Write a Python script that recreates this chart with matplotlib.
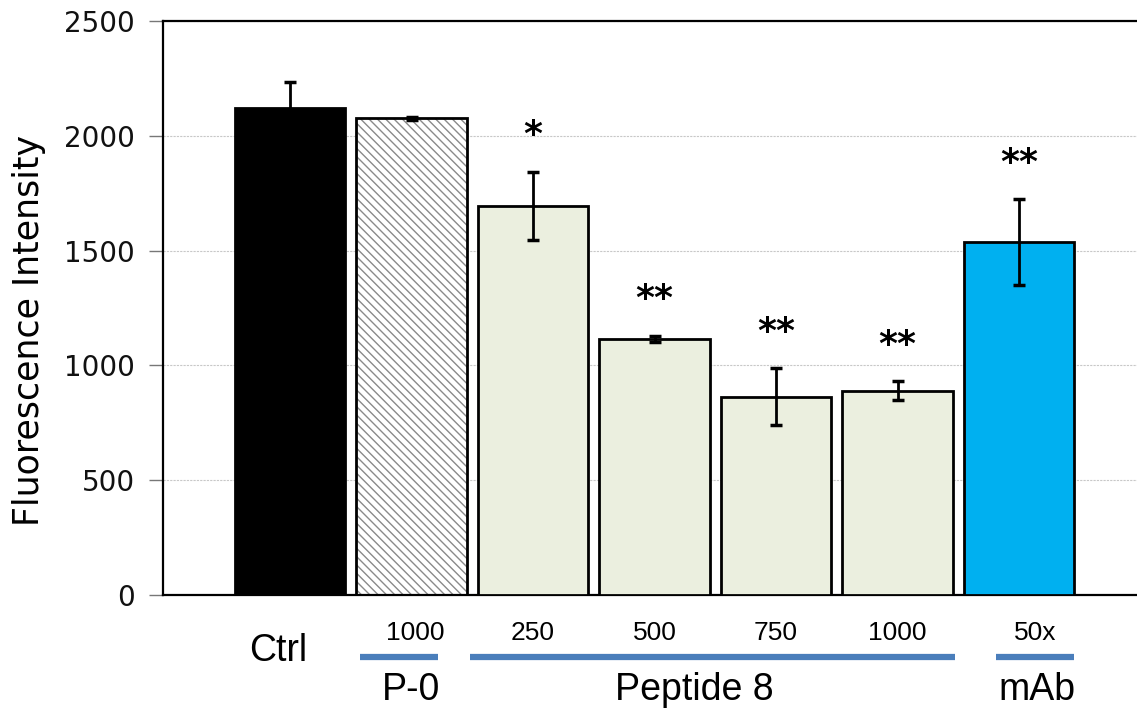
import numpy as np
import matplotlib.pyplot as plt
from matplotlib.transforms import blended_transform_factory

# bar data
groups = ['Ctrl', 'P-0', 'Pep250', 'Pep500', 'Pep750', 'Pep1000', 'mAb']
means = [2122, 2076, 1694, 1115, 864, 890, 1536]
errs = [111, 8, 150, 15, 123, 40, 187]
stars = ['', '', '*', '**', '**', '**', '**']
colors = ['#000000', '#ffffff', '#ebefdf', '#ebefdf', '#ebefdf', '#ebefdf', '#00b0f0']

dose_labels = ['1000', '250', '500', '750', '1000', '50x']
dose_x = [1.03, 2.0, 3.0, 4.0, 5.0, 6.13]
yticks = [0, 500, 1000, 1500, 2000, 2500]

W, H = 1137, 712
fig = plt.figure(figsize=(W / 100, H / 100), dpi=100)
ax = fig.add_axes([163 / W, 1 - 595 / H, (W - 163) / W, (595 - 21) / H])

x = np.arange(len(groups))
for i in range(len(groups)):
    if groups[i] == 'P-0':
        ax.bar(x[i], means[i], 0.91, color='white', edgecolor='#8a8a8a',
               hatch='\\\\\\\\', linewidth=0, zorder=2)
        ax.bar(x[i], means[i], 0.91, fill=False, edgecolor='black', linewidth=2, zorder=3)
    else:
        ax.bar(x[i], means[i], 0.91, color=colors[i], edgecolor='black', linewidth=2, zorder=3)

ax.errorbar(x, means, yerr=errs, fmt='none', ecolor='black', elinewidth=2,
            capsize=4.5, capthick=2.5, zorder=4)

for i in range(len(groups)):
    if stars[i]:
        ax.text(x[i], means[i] + errs[i] + 160, stars[i], ha='center', va='center',
                fontsize=26, fontweight='bold', family='DejaVu Sans')

ax.set_xlim(-1.045, 6.97)
ax.set_ylim(0, 2500)
ax.set_yticks(yticks)
ax.set_xticks([])
ax.tick_params(axis='y', direction='out', length=10, width=1, color='#777777',
               labelsize=20, labelcolor='#111111', pad=10)
ax.yaxis.grid(True, color='#c8c8c8', linestyle=(0, (2, 1)), linewidth=0.8, zorder=0)
ax.set_axisbelow(True)
for side in ['left', 'bottom', 'top']:
    ax.spines[side].set_linewidth(1.6)
ax.spines['right'].set_visible(False)

ax.set_ylabel('Fluorescence Intensity', fontsize=25)
ax.yaxis.set_label_coords(-(163 - 46) / (W - 163), (595 - 330) / 574)

# category labels below the axis
tr = blended_transform_factory(ax.transData, fig.transFigure)
lab = dict(family='Liberation Sans', color='black', transform=tr, ha='center', va='center')
ax.text(-0.1, 1 - 651 / H, 'Ctrl', fontsize=27, **lab)
for xd, t in zip(dose_x, dose_labels):
    ax.text(xd, 1 - 633 / H, t, fontsize=19, **lab)
ax.text(1.0, 1 - 690 / H, 'P-0', fontsize=27, **lab)
ax.text(3.33, 1 - 690 / H, 'Peptide 8', fontsize=27, **lab)
ax.text(6.15, 1 - 690 / H, 'mAb', fontsize=27, **lab)

for x0, x1 in [(0.58, 1.22), (1.48, 5.47), (5.81, 6.45)]:
    ax.plot([x0, x1], [1 - 657 / H] * 2, color='#4a7ebb', linewidth=4.5,
            transform=tr, clip_on=False, solid_capstyle='butt')

fig.savefig('out.png', dpi=100)
